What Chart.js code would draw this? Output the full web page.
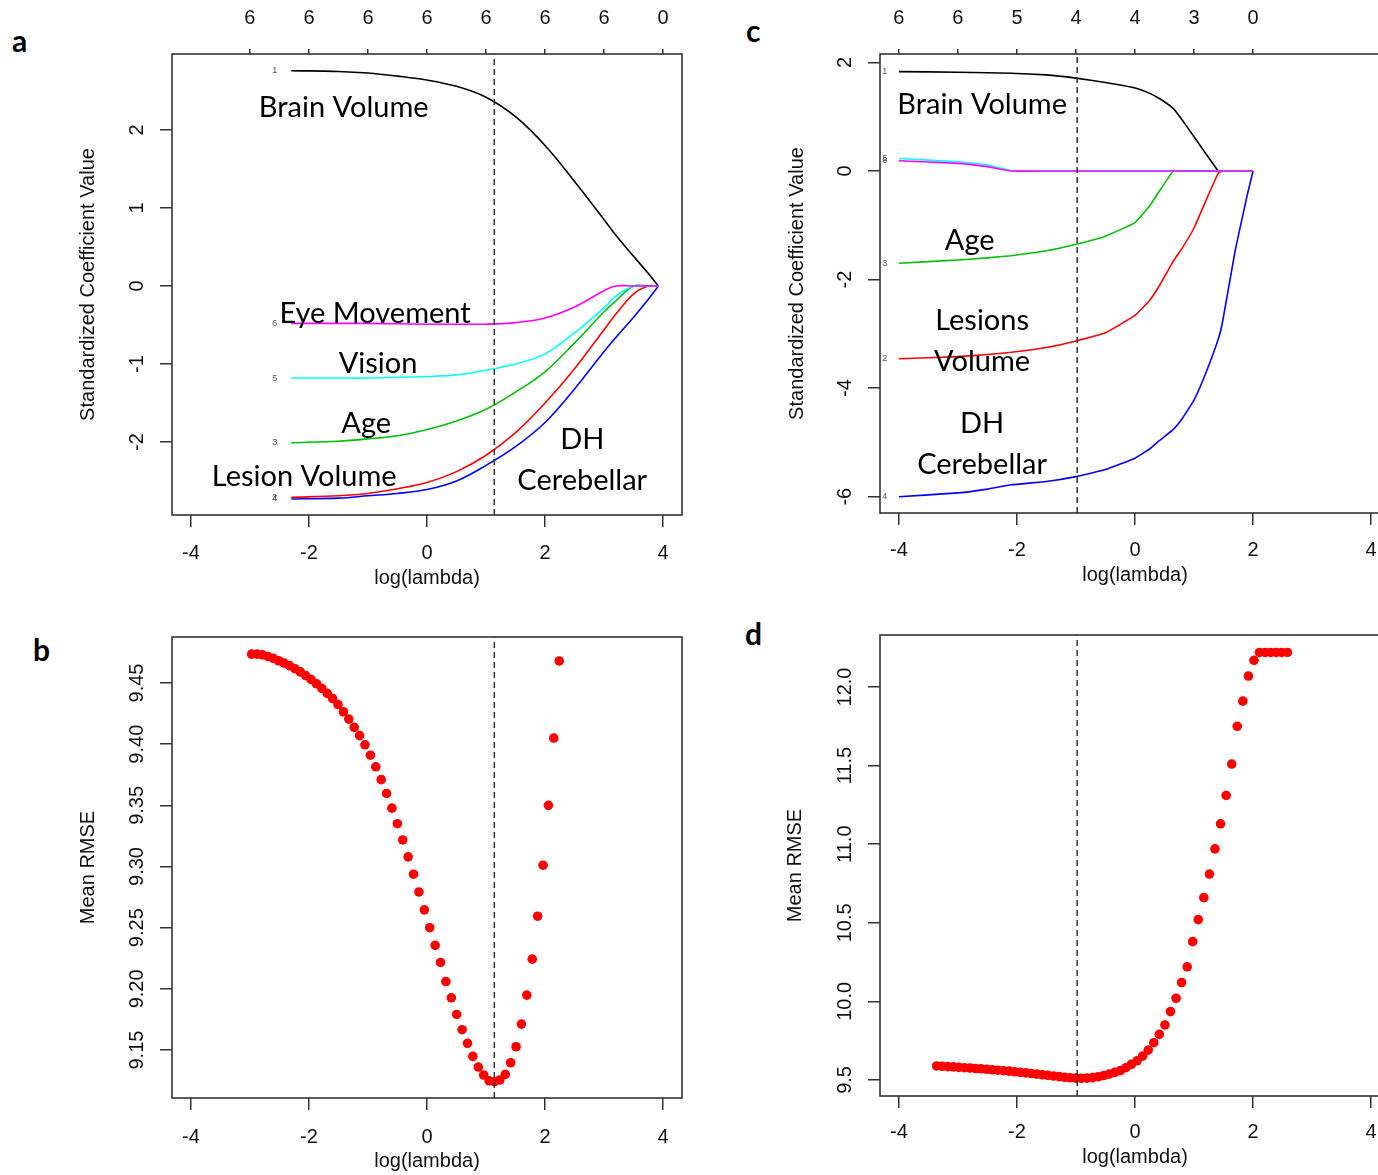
<!DOCTYPE html>
<html>
<head>
<meta charset="utf-8">
<script src="https://cdn.jsdelivr.net/npm/chart.js@4.4.0/dist/chart.umd.min.js"></script>
<style>
  html, body { margin: 0; padding: 0; background: #fff; overflow: hidden; width: 1378px; height: 1175px; }
  canvas { position: absolute; }
  .tag { position: absolute; font: bold 30px Lato, sans-serif; line-height: 1; color: #000; }
</style>
</head>
<body>
<div class="tag" style="left:12px;top:25px">a</div>
<div class="tag" style="left:33px;top:634px">b</div>
<div class="tag" style="left:746px;top:15px">c</div>
<div class="tag" style="left:745px;top:618px">d</div>
<canvas id="pa" width="700" height="590" style="left:0;top:0"></canvas>
<canvas id="pb" width="700" height="573" style="left:0;top:600px"></canvas>
<canvas id="pc" width="700" height="587" style="left:708px;top:0"></canvas>
<canvas id="pd" width="700" height="569" style="left:708px;top:600px"></canvas>
<script>
// shared axis values
const X_TICKS = [-4, -2, 0, 2, 4];
const X_RANGE = [-4.32, 4.32];

// panel a: lasso coefficient paths
const A_LOG_LAMBDA = [-2.3, -1.5, -1, -0.5, 0, 0.5, 1, 1.5, 2, 2.5, 3, 3.2, 3.5, 3.75, 3.92];
const A_BRAIN   = [2.76, 2.75, 2.73, 2.69, 2.64, 2.56, 2.42, 2.17, 1.80, 1.34, 0.85, 0.65, 0.38, 0.16, 0];
const A_LESION  = [-2.71, -2.69, -2.66, -2.60, -2.52, -2.38, -2.17, -1.88, -1.50, -1.06, -0.56, -0.36, -0.10, 0, 0];
const A_AGE     = [-2.01, -1.99, -1.96, -1.92, -1.84, -1.73, -1.58, -1.36, -1.10, -0.73, -0.33, -0.19, 0, 0, 0];
const A_DH      = [-2.73, -2.72, -2.69, -2.66, -2.61, -2.50, -2.30, -2.06, -1.75, -1.32, -0.84, -0.66, -0.40, -0.17, 0];
const A_VISION  = [-1.18, -1.18, -1.18, -1.17, -1.16, -1.14, -1.08, -1.00, -0.87, -0.60, -0.28, -0.13, 0, 0, 0];
const A_EYE     = [-0.48, -0.48, -0.48, -0.485, -0.49, -0.49, -0.49, -0.47, -0.41, -0.27, -0.06, 0, 0, 0, 0];
const A_DF_POS  = [-3, -2, -1, 0, 1, 2, 3, 4];
const A_DF      = ['6', '6', '6', '6', '6', '6', '6', '0'];
const A_Y_TICKS = [-2, -1, 0, 1, 2];
const A_Y_RANGE = [-2.936, 2.974];
const A_BEST    = 1.14;

// panel b: cross-validated RMSE
const B_LOG_LAMBDA = [-2.970, -2.879, -2.787, -2.696, -2.604, -2.513, -2.422, -2.330, -2.239, -2.147,
  -2.056, -1.965, -1.873, -1.782, -1.690, -1.599, -1.508, -1.416, -1.325, -1.233,
  -1.142, -1.051, -0.959, -0.868, -0.776, -0.685, -0.594, -0.502, -0.411, -0.319,
  -0.228, -0.137, -0.045, 0.046, 0.138, 0.229, 0.320, 0.412, 0.503, 0.595,
  0.686, 0.777, 0.869, 0.960, 1.052, 1.143, 1.234, 1.326, 1.417, 1.509,
  1.600, 1.691, 1.783, 1.874, 1.966, 2.057, 2.148, 2.240];
const B_RMSE = [9.4736, 9.4736, 9.4730, 9.4717, 9.4701, 9.4682, 9.4663, 9.4642, 9.4617, 9.4591,
  9.4561, 9.4529, 9.4494, 9.4456, 9.4415, 9.4373, 9.4324, 9.4265, 9.4205, 9.4137,
  9.4070, 9.3995, 9.3910, 9.3815, 9.3710, 9.3597, 9.3477, 9.3350, 9.3217, 9.3079,
  9.2937, 9.2792, 9.2646, 9.2500, 9.2356, 9.2216, 9.2060, 9.1927, 9.1791, 9.1666,
  9.1555, 9.1448, 9.1361, 9.1296, 9.1249, 9.1241, 9.1255, 9.1301, 9.1396, 9.1527,
  9.1712, 9.1949, 9.2243, 9.2594, 9.3011, 9.3500, 9.4050, 9.4680];
const B_Y_TICKS  = [9.15, 9.20, 9.25, 9.30, 9.35, 9.40, 9.45];
const B_Y_LABELS = ['9.15', '9.20', '9.25', '9.30', '9.35', '9.40', '9.45'];
const B_Y_RANGE  = [9.1108, 9.4876];
const B_BEST     = 1.14;

// panel c: second model coefficient paths
const C_LOG_LAMBDA = [-4, -3, -2.5, -2.1, -1.5, -1, -0.5, 0, 0.25, 0.42, 0.65, 0.8, 1.0, 1.2, 1.41, 1.48, 1.7, 1.9, 2.0];
const C_BRAIN  = [1.83, 1.82, 1.81, 1.80, 1.77, 1.71, 1.63, 1.53, 1.43, 1.33, 1.15, 0.94, 0.63, 0.32, 0, 0, 0, 0, 0];
const C_LESION = [-3.46, -3.42, -3.38, -3.34, -3.25, -3.13, -2.98, -2.66, -2.38, -2.10, -1.66, -1.42, -1.05, -0.55, -0.04, 0, 0, 0, 0];
const C_AGE    = [-1.70, -1.64, -1.60, -1.56, -1.47, -1.35, -1.20, -0.95, -0.64, -0.36, 0, 0, 0, 0, 0, 0, 0, 0, 0];
const C_DH     = [-6.00, -5.93, -5.86, -5.78, -5.72, -5.63, -5.50, -5.29, -5.12, -4.96, -4.76, -4.56, -4.22, -3.72, -3.10, -2.80, -1.45, -0.45, 0];
const C_VISION = [0.23, 0.17, 0.11, 0.01, 0, 0, 0, 0, 0, 0, 0, 0, 0, 0, 0, 0, 0, 0, 0];
const C_EYE    = [0.19, 0.14, 0.08, 0, 0, 0, 0, 0, 0, 0, 0, 0, 0, 0, 0, 0, 0, 0, 0];
const C_DF_POS = [-4, -3, -2, -1, 0, 1, 2];
const C_DF     = ['6', '6', '5', '4', '4', '3', '0'];
const C_Y_TICKS = [-6, -4, -2, 0, 2];
const C_Y_RANGE = [-6.30, 2.155];
const C_BEST    = -0.98;

// panel d: second model RMSE
const D_LOG_LAMBDA = [-3.360, -3.266, -3.171, -3.077, -2.983, -2.889, -2.794, -2.700, -2.606, -2.511,
  -2.417, -2.323, -2.228, -2.134, -2.040, -1.946, -1.851, -1.757, -1.663, -1.568,
  -1.474, -1.380, -1.285, -1.191, -1.097, -1.002, -0.908, -0.814, -0.719, -0.625,
  -0.531, -0.437, -0.342, -0.248, -0.154, -0.059, 0.035, 0.129, 0.224, 0.318,
  0.412, 0.507, 0.601, 0.695, 0.789, 0.884, 0.978, 1.072, 1.166, 1.261,
  1.355, 1.449, 1.544, 1.638, 1.732, 1.827, 1.921, 2.015, 2.109, 2.204,
  2.298, 2.392, 2.486, 2.581];
const D_RMSE = [9.589, 9.587, 9.585, 9.583, 9.580, 9.578, 9.576, 9.573, 9.571, 9.568,
  9.565, 9.562, 9.559, 9.556, 9.552, 9.548, 9.545, 9.541, 9.537, 9.533,
  9.529, 9.525, 9.521, 9.517, 9.514, 9.512, 9.511, 9.512, 9.515, 9.520,
  9.528, 9.537, 9.548, 9.560, 9.578, 9.600, 9.622, 9.652, 9.690, 9.737,
  9.790, 9.850, 9.935, 10.020, 10.12, 10.22, 10.38, 10.52, 10.66, 10.81,
  10.97, 11.13, 11.31, 11.51, 11.75, 11.91, 12.07, 12.17, 12.22, 12.22,
  12.22, 12.22, 12.22, 12.22];
const D_Y_TICKS  = [9.5, 10.0, 10.5, 11.0, 11.5, 12.0];
const D_Y_LABELS = ['9.5', '10.0', '10.5', '11.0', '11.5', '12.0'];
const D_Y_RANGE  = [9.398, 12.331];
const D_BEST     = -0.98;

const FONT = '"Liberation Sans", Arial, sans-serif';
const NOTE_FONT = 'Lato, "Open Sans", sans-serif';
const AXIS = '#333';
const PATH_COLORS = { 1: '#000000', 2: '#ff0000', 3: '#00c000', 4: '#0000ff', 5: '#00ffff', 6: '#ff00ff' };

function fixedSize(w, h) {
  return function (scale) {
    if (w != null) scale.width = w;
    if (h != null) scale.height = h;
    scale.paddingLeft = 0; scale.paddingRight = 0; scale.paddingTop = 0; scale.paddingBottom = 0;
  };
}
function setTicks(values) {
  return function (scale) { scale.ticks = values.map(v => ({ value: v })); };
}
function pairs(xs, ys) { return xs.map((x, i) => ({ x: x, y: ys[i] })); }

// box round the plot region, like R's box()
const framePlugin = {
  id: 'frame',
  afterDraw(chart) {
    const a = chart.chartArea, ctx = chart.ctx;
    ctx.save();
    ctx.strokeStyle = AXIS; ctx.lineWidth = 1.6;
    ctx.strokeRect(a.left, a.top, a.right - a.left, a.bottom - a.top);
    ctx.restore();
  }
};

// y tick labels written parallel to the axis
const yLabelPlugin = {
  id: 'yLabels',
  afterDraw(chart, args, opts) {
    const s = chart.scales.y, ctx = chart.ctx;
    ctx.save();
    ctx.font = '20px ' + FONT; ctx.fillStyle = '#111';
    ctx.textAlign = 'center'; ctx.textBaseline = 'middle';
    s.ticks.forEach((t, i) => {
      ctx.save();
      ctx.translate(opts.x, s.getPixelForValue(t.value));
      ctx.rotate(-Math.PI / 2);
      ctx.fillText(opts.labels[i], 0, 0);
      ctx.restore();
    });
    ctx.restore();
  }
};

// variable names and path numbers
const notePlugin = {
  id: 'notes',
  afterDraw(chart, args, opts) {
    const sx = chart.scales.x, sy = chart.scales.y, ctx = chart.ctx;
    ctx.save();
    ctx.textAlign = 'center'; ctx.textBaseline = 'middle';
    ctx.font = opts.size + 'px ' + NOTE_FONT; ctx.fillStyle = '#000';
    (opts.items || []).forEach(n => ctx.fillText(n.text, sx.getPixelForValue(n.x), sy.getPixelForValue(n.y)));
    ctx.font = '9px ' + FONT; ctx.fillStyle = '#555';
    (opts.numbers || []).forEach(n => ctx.fillText(n.text, sx.getPixelForValue(opts.numX), sy.getPixelForValue(n.y)));
    ctx.restore();
  }
};

function makePanel(id, cfg) {
  const scales = {
    x: {
      type: 'linear', position: 'bottom', min: X_RANGE[0], max: X_RANGE[1],
      afterBuildTicks: setTicks(X_TICKS), afterFit: fixedSize(null, cfg.bottomH),
      grid: { display: true, drawOnChartArea: false, drawTicks: true, tickLength: 12, color: AXIS, lineWidth: 1.5 },
      border: { display: false },
      ticks: { font: { family: FONT, size: 20 }, color: '#111', padding: cfg.xPad, maxRotation: 0, autoSkip: false, callback: v => String(v) },
      title: { display: true, text: 'log(lambda)', font: { family: FONT, size: 20, lineHeight: 1.2 }, color: '#111', padding: { top: 0, bottom: 0 } }
    },
    y: {
      type: 'linear', position: 'left', min: cfg.yRange[0], max: cfg.yRange[1],
      afterBuildTicks: setTicks(cfg.yTicks), afterFit: fixedSize(172, null),
      grid: { display: true, drawOnChartArea: false, drawTicks: true, tickLength: 12, color: AXIS, lineWidth: 1.5 },
      border: { display: false },
      ticks: { display: false },
      title: { display: true, text: cfg.yTitle, font: { family: FONT, size: 20, lineHeight: 1.2 }, color: '#111', padding: { top: cfg.titlePad, bottom: 0 } }
    }
  };
  if (cfg.dfPos) {
    scales.x2 = {
      type: 'linear', position: 'top', min: X_RANGE[0], max: X_RANGE[1],
      afterBuildTicks: setTicks(cfg.dfPos), afterFit: fixedSize(null, 54),
      grid: { display: true, drawOnChartArea: false, drawTicks: true, tickLength: 5, color: AXIS, lineWidth: 1.5 },
      border: { display: false },
      ticks: { font: { family: FONT, size: 20 }, color: '#111', padding: 19, maxRotation: 0, autoSkip: false, callback: (v, i) => cfg.df[i] }
    };
  }
  const datasets = cfg.datasets.concat([{
    data: [{ x: cfg.best, y: cfg.yRange[0] }, { x: cfg.best, y: cfg.yRange[1] }],
    showLine: true, borderColor: AXIS, borderWidth: 1.5, borderDash: [6, 4], pointRadius: 0, order: 0
  }]);
  new Chart(document.getElementById(id), {
    type: 'scatter',
    data: { datasets: datasets },
    options: {
      responsive: false, animation: false, devicePixelRatio: 1,
      layout: { padding: { left: 0, top: cfg.padTop, right: cfg.padRight, bottom: 0 } },
      scales: scales,
      plugins: {
        legend: { display: false }, tooltip: { enabled: false },
        yLabels: { x: 137, labels: cfg.yLabels },
        notes: cfg.notes || {}
      }
    },
    plugins: [framePlugin, yLabelPlugin, notePlugin]
  });
}

function pathSet(xs, ys, num, tension) {
  return {
    data: pairs(xs, ys), showLine: true, borderColor: PATH_COLORS[num], borderWidth: 1.6,
    pointRadius: 0, tension: tension, order: 7 - num
  };
}
function dotSet(xs, ys) {
  return { data: pairs(xs, ys), pointRadius: 4.8, pointBackgroundColor: '#ff0000', pointBorderWidth: 0, order: 2 };
}

makePanel('pa', {
  bottomH: 75, xPad: 14, titlePad: 76, padTop: 0, padRight: 18,
  yRange: A_Y_RANGE, yTicks: A_Y_TICKS, yLabels: A_Y_TICKS.map(String),
  yTitle: 'Standardized Coefficient Value', dfPos: A_DF_POS, df: A_DF, best: A_BEST,
  datasets: [
    pathSet(A_LOG_LAMBDA, A_BRAIN, 1, 0.35), pathSet(A_LOG_LAMBDA, A_LESION, 2, 0.35),
    pathSet(A_LOG_LAMBDA, A_AGE, 3, 0.35), pathSet(A_LOG_LAMBDA, A_DH, 4, 0.35),
    pathSet(A_LOG_LAMBDA, A_VISION, 5, 0.35), pathSet(A_LOG_LAMBDA, A_EYE, 6, 0.35)
  ],
  notes: {
    size: 29, numX: -2.58,
    items: [
      { text: 'Brain Volume', x: -1.41, y: 2.28 }, { text: 'Eye Movement', x: -0.88, y: -0.35 },
      { text: 'Vision', x: -0.83, y: -1.0 }, { text: 'Age', x: -1.03, y: -1.76 },
      { text: 'Lesion Volume', x: -2.08, y: -2.45 }, { text: 'DH', x: 2.63, y: -1.97 },
      { text: 'Cerebellar', x: 2.63, y: -2.5 }
    ],
    numbers: [
      { text: '1', y: A_BRAIN[0] }, { text: '2', y: A_LESION[0] }, { text: '3', y: A_AGE[0] },
      { text: '4', y: A_DH[0] }, { text: '5', y: A_VISION[0] }, { text: '6', y: A_EYE[0] }
    ]
  }
});

makePanel('pb', {
  bottomH: 75, xPad: 15, titlePad: 76, padTop: 37, padRight: 18,
  yRange: B_Y_RANGE, yTicks: B_Y_TICKS, yLabels: B_Y_LABELS,
  yTitle: 'Mean RMSE', best: B_BEST,
  datasets: [dotSet(B_LOG_LAMBDA, B_RMSE)]
});

makePanel('pc', {
  bottomH: 74, xPad: 13, titlePad: 77, padTop: 0, padRight: 18,
  yRange: C_Y_RANGE, yTicks: C_Y_TICKS, yLabels: C_Y_TICKS.map(String),
  yTitle: 'Standardized Coefficient Value', dfPos: C_DF_POS, df: C_DF, best: C_BEST,
  datasets: [
    pathSet(C_LOG_LAMBDA, C_BRAIN, 1, 0.1), pathSet(C_LOG_LAMBDA, C_LESION, 2, 0.1),
    pathSet(C_LOG_LAMBDA, C_AGE, 3, 0.1), pathSet(C_LOG_LAMBDA, C_DH, 4, 0.1),
    pathSet(C_LOG_LAMBDA, C_VISION, 5, 0.1), pathSet(C_LOG_LAMBDA, C_EYE, 6, 0.1)
  ],
  notes: {
    size: 29, numX: -4.24,
    items: [
      { text: 'Brain Volume', x: -2.59, y: 1.22 }, { text: 'Age', x: -2.8, y: -1.29 },
      { text: 'Lesions', x: -2.59, y: -2.76 }, { text: 'Volume', x: -2.59, y: -3.52 },
      { text: 'DH', x: -2.59, y: -4.66 }, { text: 'Cerebellar', x: -2.59, y: -5.41 }
    ],
    numbers: [
      { text: '1', y: C_BRAIN[0] }, { text: '2', y: C_LESION[0] }, { text: '3', y: C_AGE[0] },
      { text: '4', y: C_DH[0] }, { text: '5', y: C_VISION[0] }, { text: '6', y: C_EYE[0] }
    ]
  }
});

makePanel('pd', {
  bottomH: 73, xPad: 12, titlePad: 75, padTop: 35, padRight: 18,
  yRange: D_Y_RANGE, yTicks: D_Y_TICKS, yLabels: D_Y_LABELS,
  yTitle: 'Mean RMSE', best: D_BEST,
  datasets: [dotSet(D_LOG_LAMBDA, D_RMSE)]
});
</script>
</body>
</html>
